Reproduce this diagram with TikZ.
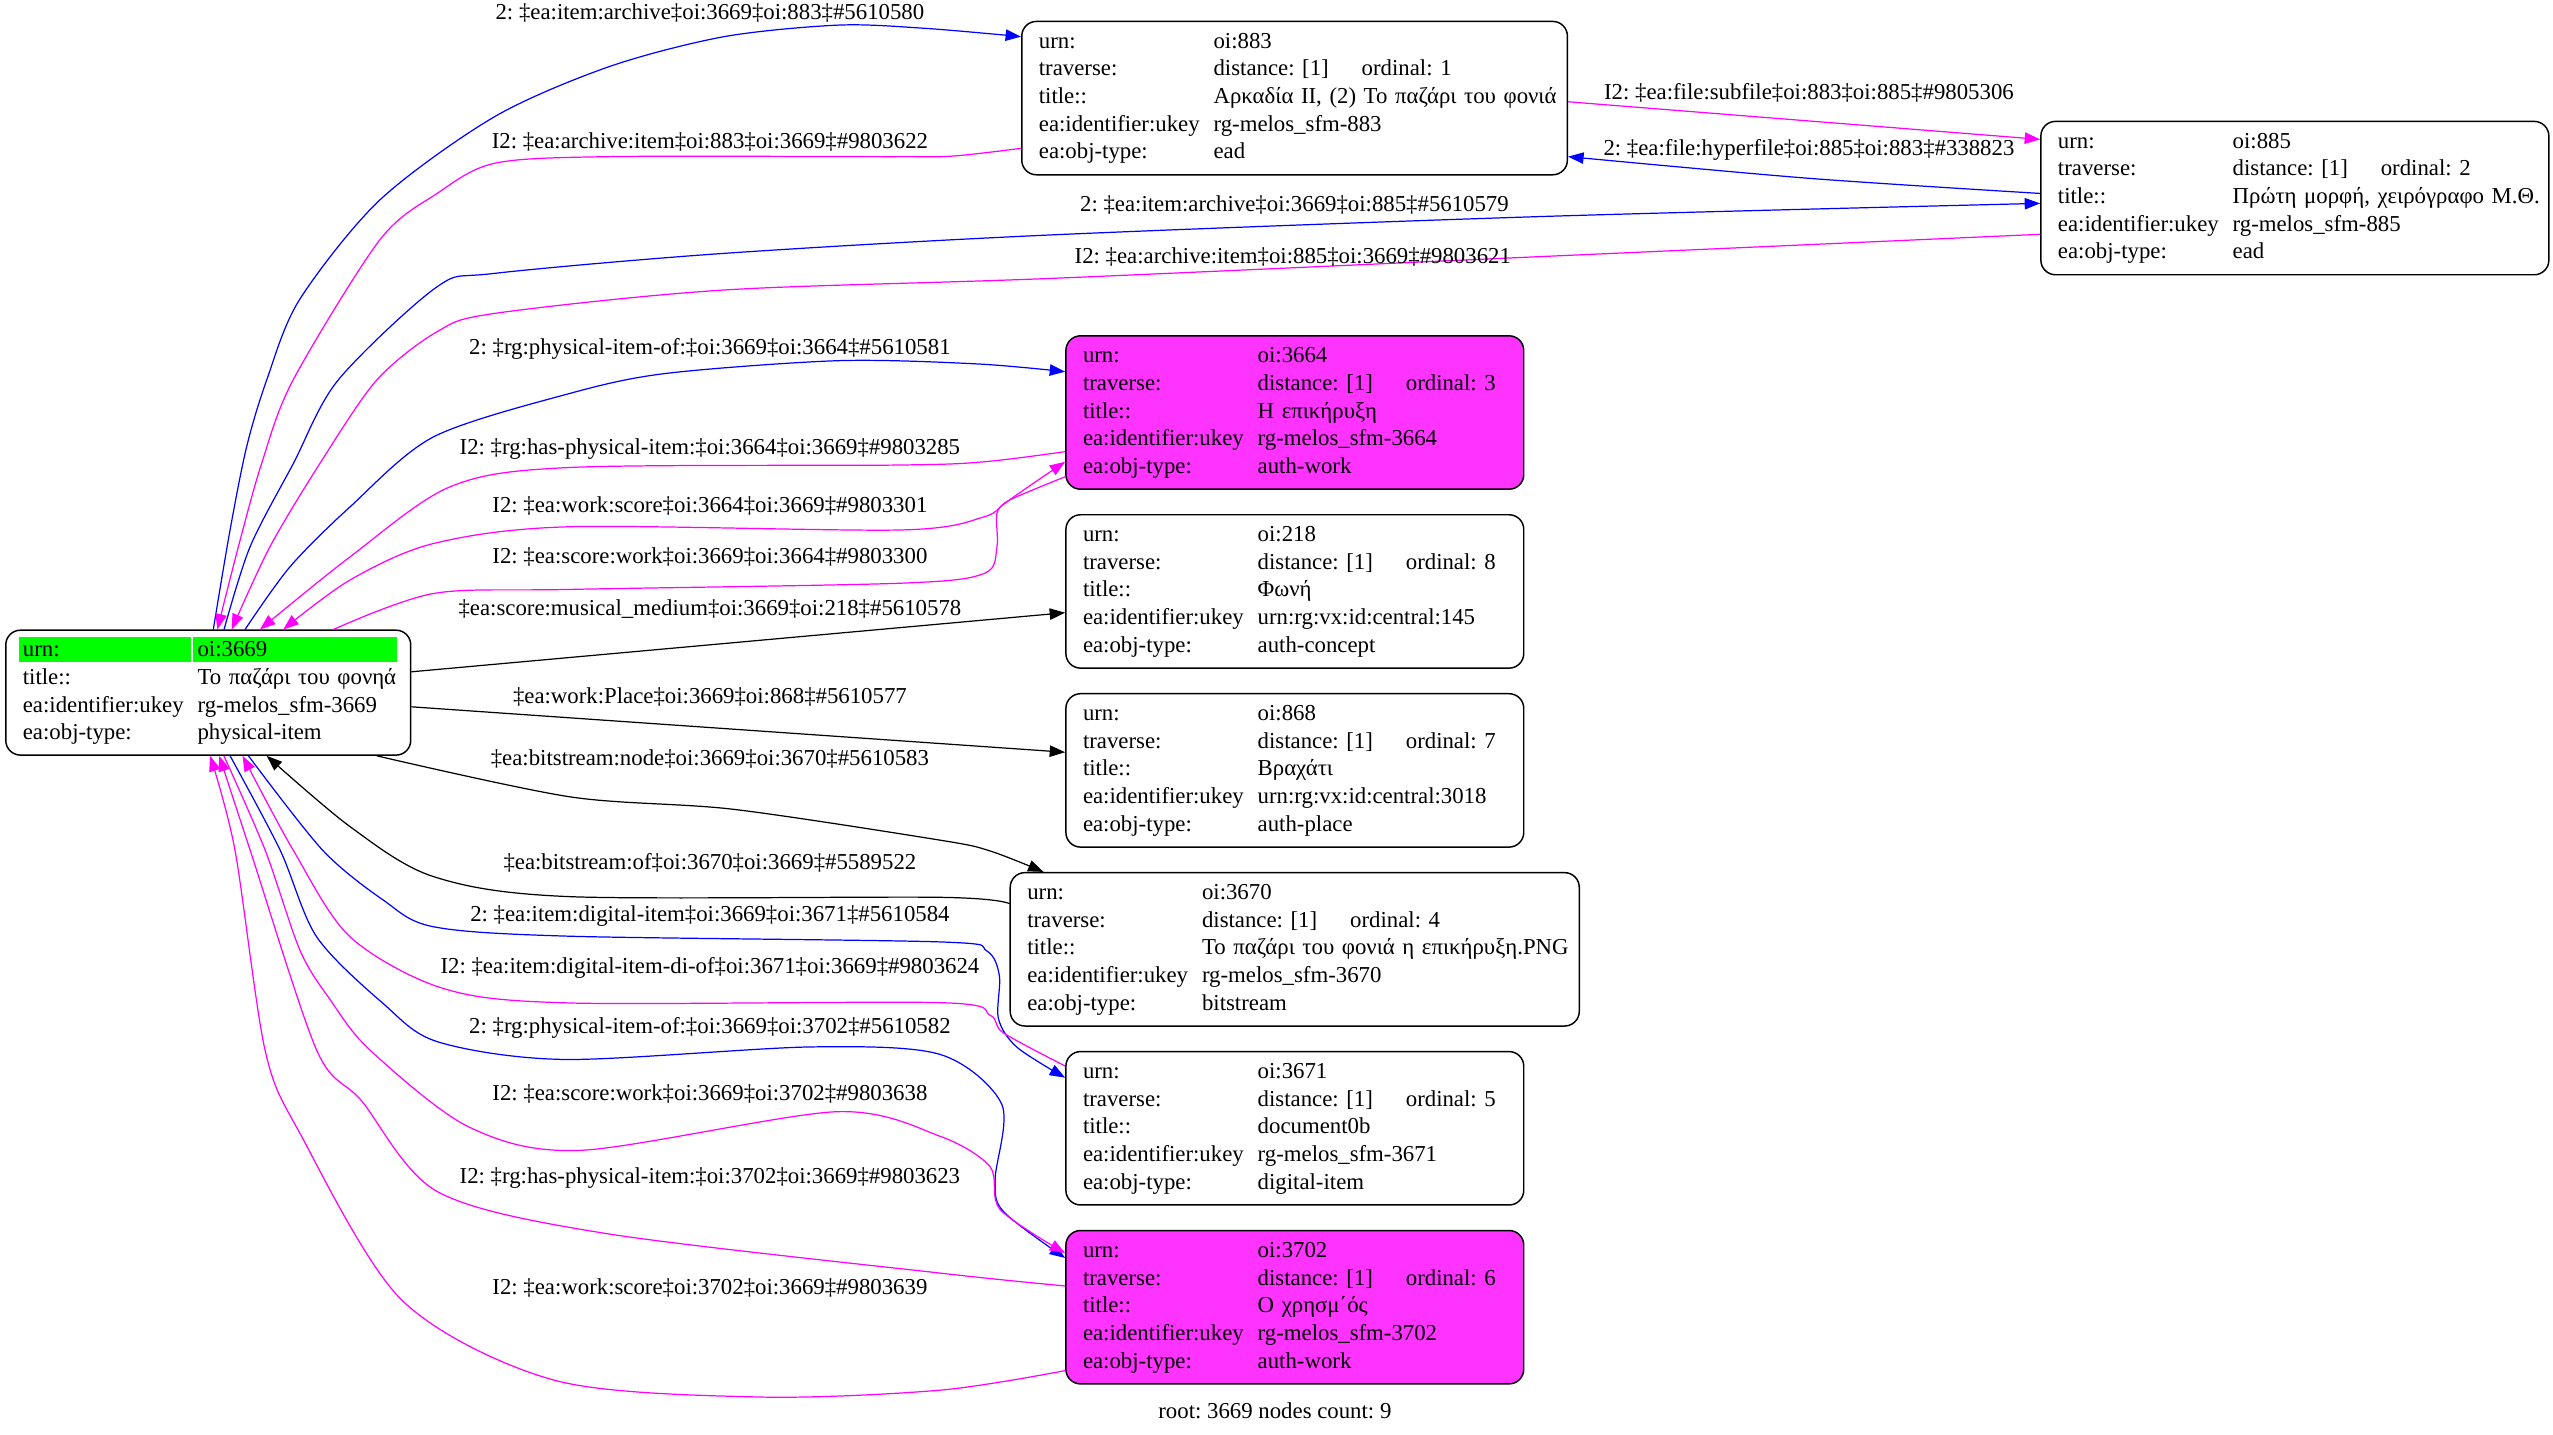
\documentclass[tikz,border=0pt]{standalone}
\usepackage{fontspec}
\setmainfont{Liberation Serif}
\usetikzlibrary{arrows.meta,calc,backgrounds}
\definecolor{eblue}{HTML}{0000FF}
\definecolor{emag}{HTML}{FF00FF}
\definecolor{npink}{HTML}{FF33FF}
\definecolor{ngreen}{HTML}{00FF00}
\newcommand\kv[2]{\mbox{\strut\makebox[107.3pt][l]{#1}#2}}
\newcommand\trav[1]{\makebox[91pt][l]{distance: [1]}ordinal: #1}
\frenchspacing
\begin{document}
\frenchspacing
\begin{tikzpicture}[x=1pt,y=-1pt,
  rec/.style={draw=black, line width=0.9pt, rounded corners=9pt, anchor=north west,
    inner xsep=10.5pt, inner ysep=0pt, align=left, minimum height=94.2pt,
    font=\fontsize{14}{17}\selectfont\frenchspacing},
  pk/.style={rec, fill=npink},
  lbl/.style={anchor=base, inner sep=0pt, font=\fontsize{14}{17}\selectfont\frenchspacing},
  tip/.style={-{Triangle[length=9.5pt,width=7pt]}},
  eb/.style={draw=eblue, line width=0.75pt, tip},
  em/.style={draw=emag, line width=0.75pt, tip},
  ek/.style={draw=black, line width=0.75pt, tip},
  sm/.style={smooth, tension=0.5}]
\useasboundingbox (0,0) rectangle (1568,881.3);

% ---------- nodes ----------
\node[rec, text width=227.7pt, minimum height=76.7pt] (n3669) at (3.1,386.6)
 {\kv{urn:}{oi:3669}\\\kv{title::}{Το παζάρι του φονηά}\\\kv{ea:identifier:ukey}{rg-melos\_sfm-3669}\\\kv{ea:obj-type:}{physical-item}};
\node[rec, text width=314.1pt] (n883) at (627.1,12.7)
 {\kv{urn:}{oi:883}\\\kv{traverse:}{\trav{1}}\\\kv{title::}{Αρκαδία II, (2) Το παζάρι του φονιά}\\\kv{ea:identifier:ukey}{rg-melos\_sfm-883}\\\kv{ea:obj-type:}{ead}};
\node[rec, text width=291pt] (n885) at (1253,74.1)
 {\kv{urn:}{oi:885}\\\kv{traverse:}{\trav{2}}\\\kv{title::}{Πρώτη μορφή, χειρόγραφο Μ.Θ.}\\\kv{ea:identifier:ukey}{rg-melos\_sfm-885}\\\kv{ea:obj-type:}{ead}};
\node[pk, text width=260.2pt] (n3664) at (654.2,205.8)
 {\kv{urn:}{oi:3664}\\\kv{traverse:}{\trav{3}}\\\kv{title::}{Η επικήρυξη}\\\kv{ea:identifier:ukey}{rg-melos\_sfm-3664}\\\kv{ea:obj-type:}{auth-work}};
\node[rec, text width=260.2pt] (n218) at (654.2,315.7)
 {\kv{urn:}{oi:218}\\\kv{traverse:}{\trav{8}}\\\kv{title::}{Φωνή}\\\kv{ea:identifier:ukey}{urn:rg:vx:id:central:145}\\\kv{ea:obj-type:}{auth-concept}};
\node[rec, text width=260.2pt] (n868) at (654.2,425.6)
 {\kv{urn:}{oi:868}\\\kv{traverse:}{\trav{7}}\\\kv{title::}{Βραχάτι}\\\kv{ea:identifier:ukey}{urn:rg:vx:id:central:3018}\\\kv{ea:obj-type:}{auth-place}};
\node[rec, text width=328.5pt] (n3670) at (620,535.5)
 {\kv{urn:}{oi:3670}\\\kv{traverse:}{\trav{4}}\\\kv{title::}{Το παζάρι του φονιά η επικήρυξη.PNG}\\\kv{ea:identifier:ukey}{rg-melos\_sfm-3670}\\\kv{ea:obj-type:}{bitstream}};
\node[rec, text width=260.2pt] (n3671) at (654.2,645.4)
 {\kv{urn:}{oi:3671}\\\kv{traverse:}{\trav{5}}\\\kv{title::}{document0b}\\\kv{ea:identifier:ukey}{rg-melos\_sfm-3671}\\\kv{ea:obj-type:}{digital-item}};
\node[pk, text width=260.2pt] (n3702) at (654.2,755.3)
 {\kv{urn:}{oi:3702}\\\kv{traverse:}{\trav{6}}\\\kv{title::}{Ο χρησμ΄ός}\\\kv{ea:identifier:ukey}{rg-melos\_sfm-3702}\\\kv{ea:obj-type:}{auth-work}};

\begin{pgfonlayer}{background}
\fill[white] (0,0) rectangle (1568,881.3);
\fill[ngreen] ($(n3669.north west)+(8.6,4.9)$) rectangle ($(n3669.north west)+(114,20.2)$);
\fill[ngreen] ($(n3669.north west)+(115.6,4.9)$) rectangle ($(n3669.north west)+(240.9,20.2)$);
\end{pgfonlayer}

% ---------- edges ----------
\draw[eb] plot[sm] coordinates {($(n3669.north west)+(127.9,0)$) (141.3,325.5) (151.5,274.3) (163.8,233.4) (183.8,184.3) (233.2,122.9) (303.7,71.7) (374.2,40.9) (444.8,22.5) (515.3,15.4) (568.2,17.4) ($(n883.north west)+(0,9.8)$)};
\draw[em] plot[sm] coordinates {($(n883.north west)+(0,78.4)$) (585.8,95.8) (550.5,96.2) (374.2,96.2) (303.7,100.3) (268.5,118.8) (233.2,147.4) (180,233.4) (160.7,284.6) (146.4,335.8) ($(n3669.north west)+(130.4,0)$)};
\draw[eb] plot[sm] coordinates {($(n3669.north west)+(134.5,0)$) (153.6,335.8) (180.2,284.6) (207.7,233.4) (268.5,176.1) (303.7,167.9) (444.8,155.6) (645.1,144.3) (946,133) ($(n885.north west)+(0,50.8)$)};
\draw[em] plot[sm] coordinates {($(n885.north west)+(0,69.8)$) (946,157.6) (645.1,171) (444.8,178.1) (303.7,192.5) (268.5,203.7) (231.4,233.4) (196.5,284.6) (165.8,335.8) ($(n3669.north west)+(139.2,0)$)};
\draw[em] ($(n883.north east)+(0,49.8)$) -- ($(n885.north west)+(0,11.5)$);
\draw[eb] plot[sm] coordinates {($(n885.north west)+(0,44.7)$) (1110.8,109.5) ($(n883.north east)+(0,83.5)$)};
\draw[eb] plot[sm] coordinates {($(n3669.north west)+(147.4,0)$) (178.1,348.1) (215,311.3) (266.3,268.3) (350.1,241.6) (409.4,229.3) (515.3,221.5) (600,223.5) ($(n3664.north west)+(0,22.5)$)};
\draw[em] plot[sm] coordinates {($(n3664.north west)+(0,71.6)$) (604.5,283.6) (552.8,285.6) (350.1,287.1) (276.4,299) (215,342) ($(n3669.north west)+(156.6,0)$)};
\draw[em] plot[sm] coordinates {($(n3664.north west)+(0,87)$) (620,307.1) (604.5,317.4) (552.8,325.5) (350.1,323.5) (266.3,333.8) (215,356.2) ($(n3669.north west)+(170.9,0)$)};
\draw[em] plot[sm] coordinates {($(n3669.north west)+(201.7,0)$) (266.3,364.5) (350.1,362) (552.8,358.2) (604.5,352.2) (612.3,335.8) (612.3,315.3) (620,307.1) ($(n3664.north west)+(0,77.8)$)};
\draw[ek] ($(n3669.north east)+(0,26)$) -- ($(n218.north west)+(0,60.6)$);
\draw[ek] ($(n3669.north east)+(0,47.5)$) -- ($(n868.north west)+(0,36.4)$);
\draw[ek] plot[sm] coordinates {($(n3669.south west)+(228.3,0)$) (350.1,489.4) (450,497) (577.4,516) (608,522.6) ($(n3670.north west)+(20.9,0)$)};
\draw[ek] plot[sm] coordinates {($(n3670.north west)+(0,19.5)$) (577.4,551.1) (350.1,550.7) (266.3,538.4) (215,507.7) ($(n3669.south west)+(160.7,0)$)};
\draw[eb] plot[sm] coordinates {($(n3669.south west)+(149.5,0)$) (198,522) (235.4,552.8) (266.3,569.2) (350.1,575) (577.4,578.5) (606,584) (613.8,599.3) (613.2,625.6) (624.6,643.2) ($(n3671.north west)+(0,16.5)$)};
\draw[em] plot[sm] coordinates {($(n3671.north west)+(0,9.3)$) (616.3,634.4) (608.1,623.5) (577.4,615.8) (350.1,616) (272.3,607.1) (215,575.4) (180,522) ($(n3669.south west)+(145.9,0)$)};
\draw[eb] plot[sm] coordinates {($(n3669.south west)+(138.2,0)$) (172,522) (194.5,575.4) (235.4,616.4) (269,639.9) (347.3,650.7) (497.7,643) (577.4,647.6) (615.3,678.3) (611.2,724.3) (616.3,744.1) ($(n3702.north west)+(0,17.3)$)};
\draw[em] plot[sm] coordinates {($(n3669.south west)+(134.4,0)$) (162.8,522) (184.3,583.8) (203,614.3) (227.3,645) (287.7,692) (356.7,706.5) (513.3,682.8) (577.4,697.9) (608.1,716.6) (614.3,742.9) ($(n3702.north west)+(0,14.3)$)};
\draw[em] plot[sm] coordinates {($(n3702.north west)+(0,34.5)$) (577.4,781.9) (372.3,757.6) (268.9,732) (221.9,675.9) (194.5,645) (153.6,522) ($(n3669.south west)+(131.6,0)$)};
\draw[em] plot[sm] coordinates {($(n3702.north west)+(0,86.5)$) (577.4,853.8) (466.3,858) (340.9,847.8) (247,798.7) (184.3,696.2) (162.8,645) (144.3,522) ($(n3669.south west)+(125.9,0)$)};

% ---------- labels ----------
\node[lbl] (l1) at (436,12.2) {2: ‡ea:item:archive‡oi:3669‡oi:883‡\#5610580};
\node[lbl] (l2) at (436,91) {I2: ‡ea:archive:item‡oi:883‡oi:3669‡\#9803622};
\node[lbl] (l3) at (1111,61.3) {I2: ‡ea:file:subfile‡oi:883‡oi:885‡\#9805306};
\node[lbl] (l4) at (1111,95.7) {2: ‡ea:file:hyperfile‡oi:885‡oi:883‡\#338823};
\node[lbl] (l5) at (795,130) {2: ‡ea:item:archive‡oi:3669‡oi:885‡\#5610579};
\node[lbl] (l6) at (794,162) {I2: ‡ea:archive:item‡oi:885‡oi:3669‡\#9803621};
\node[lbl] (l7) at (436,218) {2: ‡rg:physical-item-of:‡oi:3669‡oi:3664‡\#5610581};
\node[lbl] (l8) at (436,279) {I2: ‡rg:has-physical-item:‡oi:3664‡oi:3669‡\#9803285};
\node[lbl] (l9) at (436,315) {I2: ‡ea:work:score‡oi:3664‡oi:3669‡\#9803301};
\node[lbl] (l10) at (436,346) {I2: ‡ea:score:work‡oi:3669‡oi:3664‡\#9803300};
\node[lbl] (l11) at (436,378) {‡ea:score:musical\_medium‡oi:3669‡oi:218‡\#5610578};
\node[lbl] (l12) at (436,432) {‡ea:work:Place‡oi:3669‡oi:868‡\#5610577};
\node[lbl] (l13) at (436,470) {‡ea:bitstream:node‡oi:3669‡oi:3670‡\#5610583};
\node[lbl] (l14) at (436,534) {‡ea:bitstream:of‡oi:3670‡oi:3669‡\#5589522};
\node[lbl] (l15) at (436,566) {2: ‡ea:item:digital-item‡oi:3669‡oi:3671‡\#5610584};
\node[lbl] (l16) at (436,598) {I2: ‡ea:item:digital-item-di-of‡oi:3671‡oi:3669‡\#9803624};
\node[lbl] (l17) at (436,634.6) {2: ‡rg:physical-item-of:‡oi:3669‡oi:3702‡\#5610582};
\node[lbl] (l18) at (436,675.6) {I2: ‡ea:score:work‡oi:3669‡oi:3702‡\#9803638};
\node[lbl] (l19) at (436,726.8) {I2: ‡rg:has-physical-item:‡oi:3702‡oi:3669‡\#9803623};
\node[lbl] (l20) at (436,795.3) {I2: ‡ea:work:score‡oi:3702‡oi:3669‡\#9803639};
\node[lbl] (root) at (783,871) {root: 3669 nodes count: 9};
\end{tikzpicture}
\end{document}
